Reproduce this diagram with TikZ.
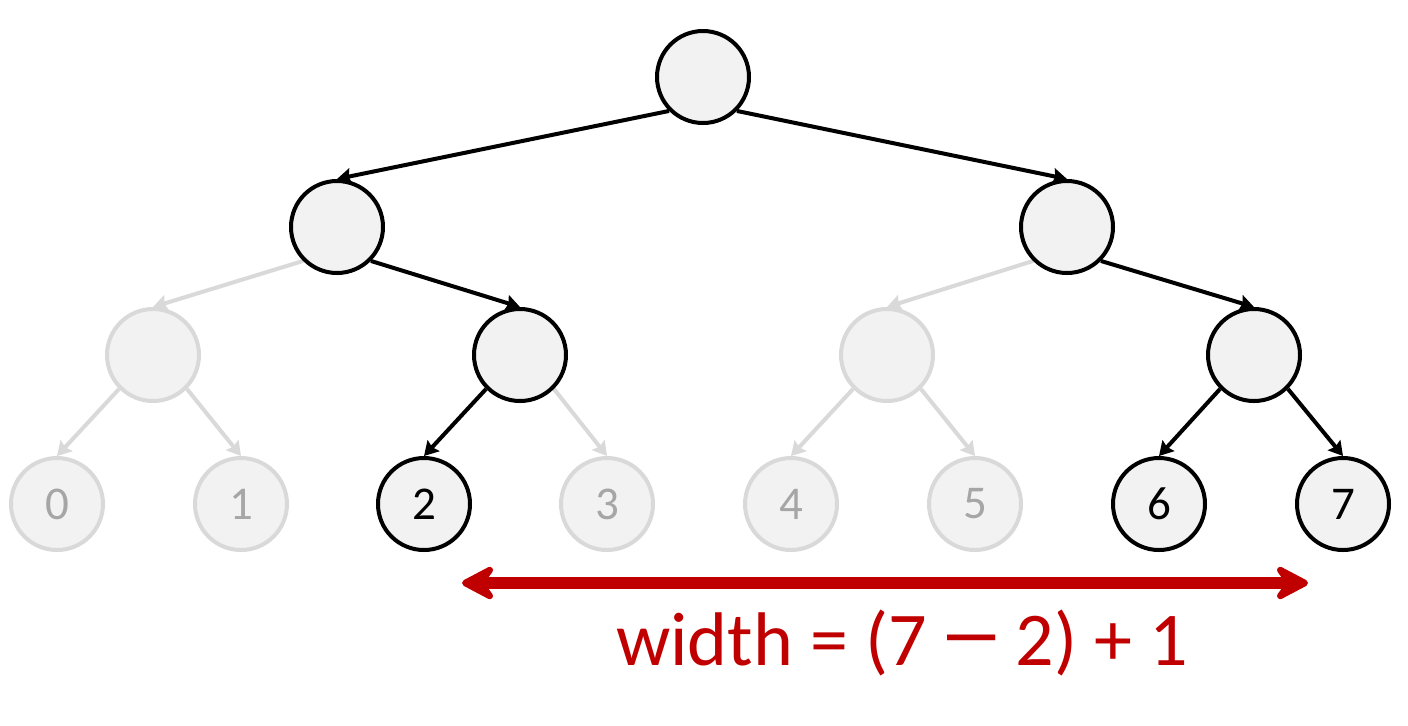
\documentclass[tikz,border=0pt]{standalone}
\usepackage{fontspec}
\usepackage{graphicx}
\setmainfont{Carlito}
\usetikzlibrary{arrows.meta,backgrounds}
\definecolor{nodefill}{HTML}{F2F2F2}
\definecolor{lightedge}{HTML}{D9D9D9}
\definecolor{lighttext}{HTML}{A6A6A6}
\definecolor{widthred}{HTML}{C00000}
\tikzset{
  tnode/.style={circle,draw=black,fill=nodefill,line width=2pt,minimum size=46pt,inner sep=0pt,font=\fontsize{23.5}{26}\selectfont},
  fnode/.style={tnode,draw=lightedge,text=lighttext},
  tedge/.style={line width=2pt,black,-{Stealth[length=7pt,width=8pt,inset=1pt]}},
  fedge/.style={tedge,lightedge},
  widtharrow/.style={line width=6pt,widthred,{Stealth[round,length=21pt,width=22pt,inset=8pt]}-{Stealth[round,length=21pt,width=22pt,inset=8pt]}}
}
\begin{document}
\begin{tikzpicture}[x=0.5pt,y=-0.5pt]
\useasboundingbox (0,0) rectangle (1408,725);
\node[tnode] (r) at (703,77) {};
\node[tnode] (a) at (337,227) {};
\node[tnode] (b) at (1067,227) {};
\node[fnode] (a1) at (153,355) {};
\node[tnode] (a2) at (520,355) {};
\node[fnode] (b1) at (887,355) {};
\node[tnode] (b2) at (1254,355) {};
\node[fnode] (n0) at (57,504) {0};
\node[fnode] (n1) at (241,504) {1};
\node[tnode] (n2) at (424,504) {2};
\node[fnode] (n3) at (607,504) {3};
\node[fnode] (n4) at (791,504) {4};
\node[fnode] (n5) at (975,504) {5};
\node[tnode] (n6) at (1159,504) {6};
\node[tnode] (n7) at (1343,504) {7};
\begin{scope}[on background layer]
\draw[tedge] (r.south west) -- (a.north);
\draw[tedge] (r.south east) -- (b.north);
\draw[fedge] (a.south west) -- (a1.north);
\draw[tedge] (a.south east) -- (a2.north);
\draw[fedge] (b.south west) -- (b1.north);
\draw[tedge] (b.south east) -- (b2.north);
\draw[fedge] (a1.south west) -- (n0.north);
\draw[fedge] (a1.south east) -- (n1.north);
\draw[tedge] (a2.south west) -- (n2.north);
\draw[fedge] (a2.south east) -- (n3.north);
\draw[fedge] (b1.south west) -- (n4.north);
\draw[fedge] (b1.south east) -- (n5.north);
\draw[tedge] (b2.south west) -- (n6.north);
\draw[tedge] (b2.south east) -- (n7.north);
\end{scope}
\coordinate (wl) at (462,583);
\coordinate (wr) at (1308,583);
\draw[widtharrow] (wl) -- (wr);
\node[anchor=base,text=widthred,font=\fontsize{38}{42}\selectfont] (lbl) at (902,665) {width = (7 \kern-2.5pt\scalebox{1.7}[1.15]{\char"2212}\kern-2.5pt{} 2) + 1};
\end{tikzpicture}
\end{document}
